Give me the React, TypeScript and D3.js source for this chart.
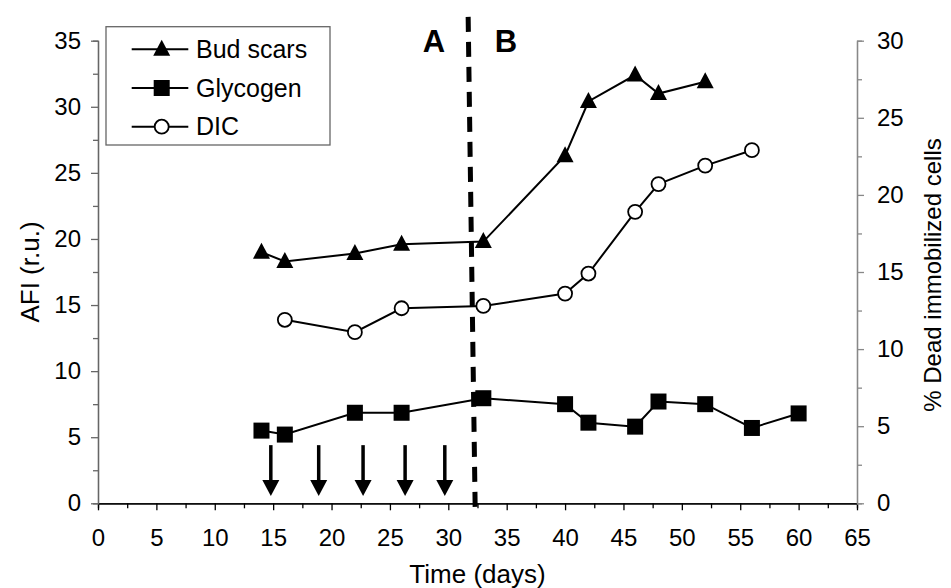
import React, { useEffect, useRef } from "react";
import * as d3 from "d3";

// Time (days) for each series
const budDays = [14, 16, 22, 26, 33, 40, 42, 46, 48, 52];
const budScars = [19.0, 18.3, 18.9, 19.6, 19.8, 26.3, 30.4, 32.4, 31.0, 31.9];

const glycogenDays = [14, 16, 22, 26, 33, 40, 42, 46, 48, 52, 56, 60];
const glycogen = [5.5, 5.2, 6.85, 6.85, 7.95, 7.5, 6.1, 5.8, 7.7, 7.5, 5.7, 6.8];

// DIC on the right axis (% dead immobilized cells)
const dicDays = [16, 22, 26, 33, 40, 42, 46, 48, 52, 56];
const dic = [11.9, 11.1, 12.65, 12.8, 13.6, 14.9, 18.9, 20.7, 21.9, 22.9];

// arrows (days), and the A/B divider (days at top, days at bottom)
const arrowDays = [14.8, 18.9, 22.7, 26.3, 29.7];
const dividerDays = [31.7, 32.3];
const dividerAfi = [36.8, -0.3];

const legendItems = ["Bud scars", "Glycogen", "DIC"];

const W = 951;
const H = 588;
const FONT = "Liberation Sans, Arial, sans-serif";

const triPath = "M0,-9.5L8.5,6.5L-8.5,6.5Z";

const Chart = () => {
  const svgRef = useRef(null);

  useEffect(() => {
    const svg = d3.select(svgRef.current);
    svg.selectAll("*").remove();

    const x = d3.scaleLinear().domain([0, 65]).range([98, 857]);
    const yL = d3.scaleLinear().domain([0, 35]).range([503.3, 40.7]);
    const yR = d3.scaleLinear().domain([0, 30]).range([503.3, 40.7]);

    const styleAxis = (g, color) => {
      g.selectAll("path").attr("stroke", color).attr("stroke-width", 1.3);
      g.selectAll("line").attr("stroke", color).attr("stroke-width", 1.3);
      g.selectAll("text")
        .style("font-family", FONT)
        .style("font-size", "24px")
        .attr("fill", "#000");
    };

    // bottom axis
    const gx = svg.append("g").attr("transform", `translate(0,${yL(0)})`);
    gx.call(
      d3.axisBottom(x).tickValues(d3.range(2.5, 65, 5)).tickSize(5).tickFormat(() => "")
    );
    gx.append("g").call(
      d3.axisBottom(x).tickValues(d3.range(0, 66, 5)).tickSize(7).tickSizeOuter(0).tickPadding(19)
    );
    styleAxis(gx, "#000");

    // left axis
    const gl = svg.append("g").attr("transform", `translate(${x(0)},0)`);
    gl.call(
      d3.axisLeft(yL).tickValues(d3.range(2.5, 35, 5)).tickSize(5).tickFormat(() => "")
    );
    gl.append("g").call(
      d3.axisLeft(yL).tickValues(d3.range(0, 36, 5)).tickSize(7).tickSizeOuter(0).tickPadding(10)
    );
    styleAxis(gl, "#666");

    // right axis
    const gr = svg.append("g").attr("transform", `translate(${x(65)},0)`);
    gr.call(
      d3.axisRight(yR).tickValues(d3.range(2.5, 30, 5)).tickSize(5).tickFormat(() => "")
    );
    gr.append("g").call(
      d3.axisRight(yR).tickValues(d3.range(0, 31, 5)).tickSize(7).tickSizeOuter(0).tickPadding(13)
    );
    styleAxis(gr, "#888");

    // axis titles
    svg.append("text")
      .attr("x", (x(0) + x(65)) / 2)
      .attr("y", 583)
      .attr("text-anchor", "middle")
      .style("font-family", FONT)
      .style("font-size", "26px")
      .text("Time (days)");

    svg.append("text")
      .attr("transform", `translate(39,${(yL(0) + yL(35)) / 2}) rotate(-90)`)
      .attr("text-anchor", "middle")
      .style("font-family", FONT)
      .style("font-size", "26px")
      .text("AFI (r.u.)");

    svg.append("text")
      .attr("transform", `translate(941,275) rotate(-90)`)
      .attr("text-anchor", "middle")
      .style("font-family", FONT)
      .style("font-size", "24px")
      .text("% Dead immobilized cells");

    // divider
    svg.append("line")
      .attr("x1", x(dividerDays[0]))
      .attr("y1", yL(dividerAfi[0]))
      .attr("x2", x(dividerDays[1]))
      .attr("y2", yL(dividerAfi[1]))
      .attr("stroke", "#000")
      .attr("stroke-width", 5)
      .attr("stroke-dasharray", "15 10");

    svg.append("text")
      .attr("x", 434).attr("y", 52)
      .attr("text-anchor", "middle")
      .style("font-family", FONT)
      .style("font-size", "31px")
      .style("font-weight", "bold")
      .text("A");
    svg.append("text")
      .attr("x", 506).attr("y", 52)
      .attr("text-anchor", "middle")
      .style("font-family", FONT)
      .style("font-size", "31px")
      .style("font-weight", "bold")
      .text("B");

    // arrows
    arrowDays.forEach(d => {
      const ax = x(d);
      svg.append("line")
        .attr("x1", ax).attr("x2", ax)
        .attr("y1", yL(4.4)).attr("y2", yL(1.6))
        .attr("stroke", "#000")
        .attr("stroke-width", 3.5);
      svg.append("path")
        .attr("d", `M${ax - 8.5},${yL(1.76)} L${ax + 8.5},${yL(1.76)} L${ax},${yL(0.55)} Z`)
        .attr("fill", "#000");
    });

    const line = d3.line();

    // Bud scars
    const budPts = budDays.map((d, i) => [x(d), yL(budScars[i])]);
    svg.append("path").attr("d", line(budPts)).attr("fill", "none").attr("stroke", "#000").attr("stroke-width", 2);
    svg.selectAll(".bud").data(budPts).enter().append("path")
      .attr("transform", p => `translate(${p[0]},${p[1]})`)
      .attr("d", triPath)
      .attr("fill", "#000");

    // Glycogen
    const glyPts = glycogenDays.map((d, i) => [x(d), yL(glycogen[i])]);
    svg.append("path").attr("d", line(glyPts)).attr("fill", "none").attr("stroke", "#000").attr("stroke-width", 2);
    svg.selectAll(".gly").data(glyPts).enter().append("rect")
      .attr("x", p => p[0] - 8).attr("y", p => p[1] - 8)
      .attr("width", 16).attr("height", 16)
      .attr("fill", "#000");

    // DIC
    const dicPts = dicDays.map((d, i) => [x(d), yR(dic[i])]);
    svg.append("path").attr("d", line(dicPts)).attr("fill", "none").attr("stroke", "#000").attr("stroke-width", 2);
    svg.selectAll(".dic").data(dicPts).enter().append("circle")
      .attr("cx", p => p[0]).attr("cy", p => p[1])
      .attr("r", 7)
      .attr("fill", "#fff")
      .attr("stroke", "#000")
      .attr("stroke-width", 1.8);

    // legend
    const lg = svg.append("g");
    lg.append("rect")
      .attr("x", 106).attr("y", 26.7)
      .attr("width", 224).attr("height", 118.3)
      .attr("fill", "#fff")
      .attr("stroke", "#666")
      .attr("stroke-width", 1.3);
    legendItems.forEach((name, i) => {
      const cy = 49.3 + i * 38.7;
      lg.append("line")
        .attr("x1", 131.7).attr("x2", 188.3)
        .attr("y1", cy).attr("y2", cy)
        .attr("stroke", "#000").attr("stroke-width", 2);
      if (i === 0) {
        lg.append("path").attr("transform", `translate(161.7,${cy})`).attr("d", triPath).attr("fill", "#000");
      } else if (i === 1) {
        lg.append("rect").attr("x", 153.7).attr("y", cy - 8).attr("width", 16).attr("height", 16).attr("fill", "#000");
      } else {
        lg.append("circle").attr("cx", 161.7).attr("cy", cy).attr("r", 7)
          .attr("fill", "#fff").attr("stroke", "#000").attr("stroke-width", 1.8);
      }
      lg.append("text")
        .attr("x", 196).attr("y", cy)
        .attr("dy", "0.35em")
        .style("font-family", FONT)
        .style("font-size", "25px")
        .text(name);
    });
  }, []);

  return (
    <svg
      ref={svgRef}
      width={W}
      height={H}
      style={{ position: "absolute", left: 0, top: 0, background: "#fff" }}
    />
  );
};

export default function App() {
  return <Chart />;
}
